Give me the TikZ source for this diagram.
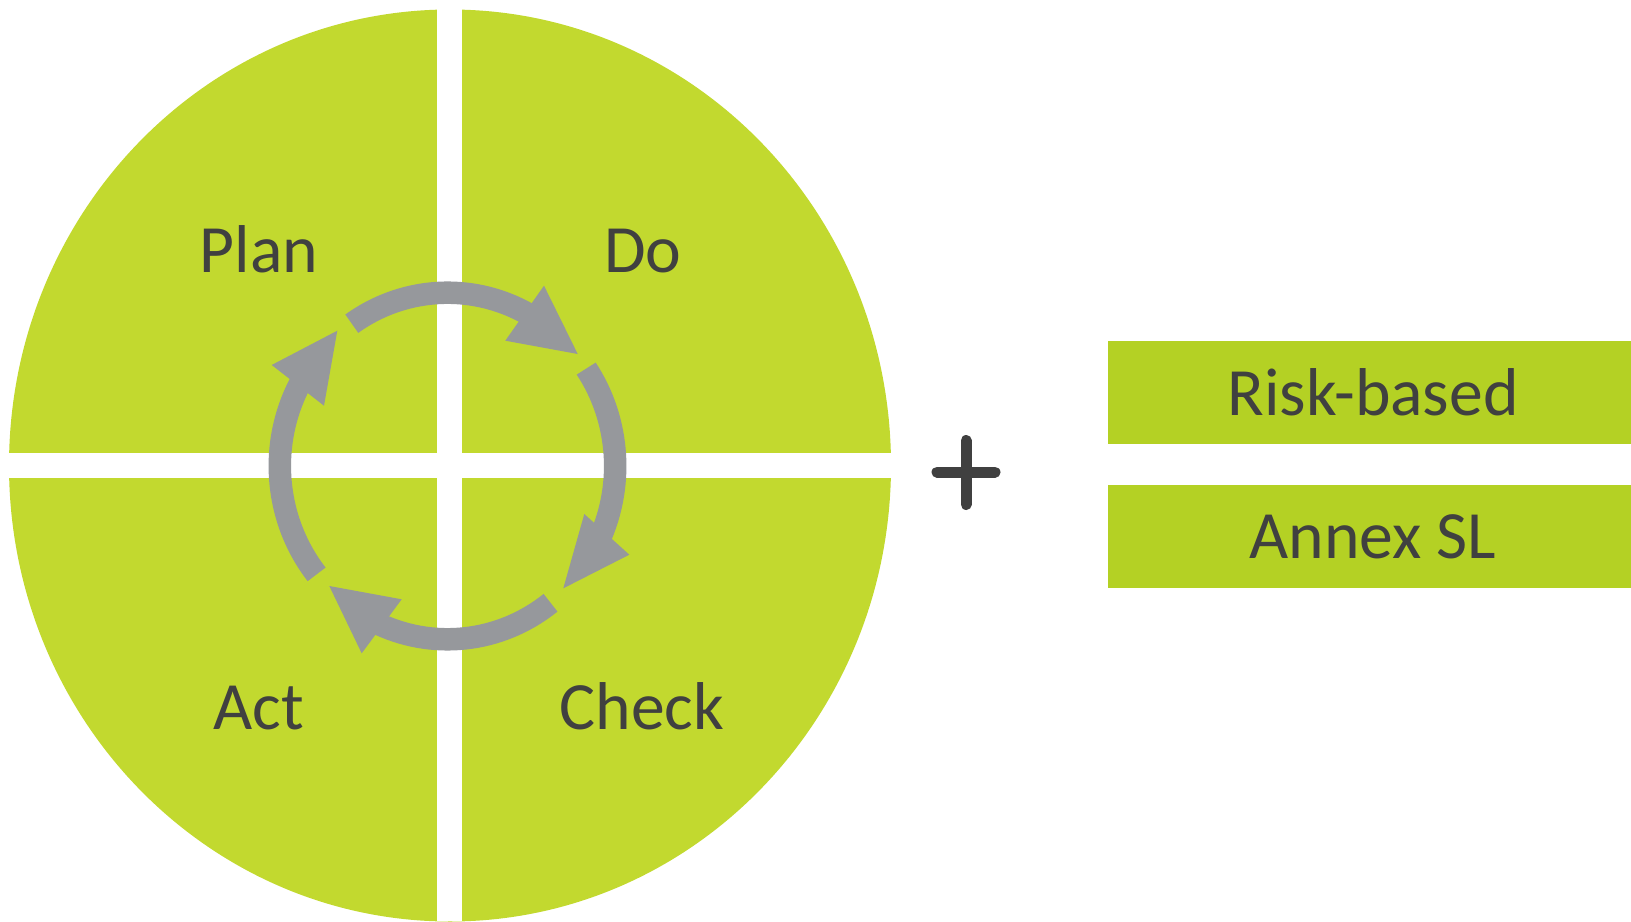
\documentclass[tikz,border=0pt]{standalone}
\usepackage{xcolor}
\usepackage{fontspec}
\setmainfont{Carlito}
\usepackage{tikz}
\usetikzlibrary{positioning}
\pgfdeclarelayer{fieldlayer}
\pgfdeclarelayer{nodelayer}
\pgfdeclarelayer{edgelayer}
\pgfsetlayers{fieldlayer,nodelayer,edgelayer,main}
\definecolor{pdcagreen}{RGB}{194,217,47}
\definecolor{boxgreen}{RGB}{180,209,36}
\definecolor{cyclegrey}{RGB}{150,152,156}
\definecolor{inkgrey}{RGB}{64,64,64}
\tikzset{
    none/.style = {inner sep=0pt},
    quadtext/.style = {inner sep=0pt, anchor=base, text=inkgrey, font=\fontsize{38.5}{46}\selectfont},
    boxtext/.style = {fill=boxgreen, inner sep=0pt, minimum width=10.6cm, minimum height=2.07cm, text=inkgrey, font=\fontsize{38.5}{46}\selectfont},
    shaft/.style = {draw=cyclegrey, line width=0.45cm},
    head/.style = {fill=cyclegrey},
    plusbar/.style = {draw=inkgrey, line width=0.22cm, line cap=round}
}
\begin{document}
\begin{tikzpicture}[x=0.02cm, y=0.02cm]
    \useasboundingbox (0,0) rectangle (1631,921);
    \begin{pgfonlayer}{fieldlayer}
        % disc cut into four quarters
        \fill [pdcagreen] (450,455.5) ellipse [x radius=441, y radius=456];
        \fill [white] (437.3,0) rectangle (462.3,921);
        \fill [white] (0,442.7) rectangle (900,468.3);
        \node [style=boxtext] (10) at (1373, 528.5) {Risk-based};
        \node [style=boxtext] (11) at (1373, 384.5) {Annex SL};
    \end{pgfonlayer}
    \begin{pgfonlayer}{nodelayer}
        \node [style=quadtext] (0) at (259, 648.3) {Plan};
        \node [style=quadtext] (1) at (643, 648.3) {Do};
        \node [style=quadtext] (2) at (258.5, 191.5) {Act};
        \node [style=quadtext] (3) at (642, 191.5) {Check};
        \node [style=none] (4) at ({447.5+167.7*cos(124.8)}, {455+173.3*sin(124.8)}) {};
        \node [style=none] (5) at ({447.5+167.7*cos(34.2)}, {455+173.3*sin(34.2)}) {};
        \node [style=none] (6) at ({447.5+167.7*cos(-52.1)}, {455+173.3*sin(-52.1)}) {};
        \node [style=none] (7) at ({447.5+167.7*cos(218.7)}, {455+173.3*sin(218.7)}) {};
        \node [style=none] (12) at (937, 449) {};
        \node [style=none] (13) at (995, 449) {};
        \node [style=none] (14) at (966, 480.5) {};
        \node [style=none] (15) at (966, 416.5) {};
    \end{pgfonlayer}
    \begin{pgfonlayer}{edgelayer}
        % cycle arrows, clockwise
        \draw [style=shaft] (4.center) arc [start angle=124.8, end angle=58, x radius=167.7, y radius=173.3];
        \fill [style=head] (544,635.3) -- (577.7,567) -- (505.3,580.3) -- cycle;
        \draw [style=shaft] (5.center) arc [start angle=34.2, end angle=-27, x radius=167.7, y radius=173.3];
        \fill [style=head] (629.3,366.3) -- (563.3,332.7) -- (584.3,407) -- cycle;
        \draw [style=shaft] (6.center) arc [start angle=-52.1, end angle=-116, x radius=167.7, y radius=173.3];
        \fill [style=head] (361.7,267.7) -- (329.3,335) -- (401.7,321.7) -- cycle;
        \draw [style=shaft] (7.center) arc [start angle=218.7, end angle=148, x radius=167.7, y radius=173.3];
        \fill [style=head] (271.7,556) -- (337.3,590.3) -- (324,515.3) -- cycle;
        \draw [style=plusbar] (12.center) to (13.center);
        \draw [style=plusbar] (14.center) to (15.center);
    \end{pgfonlayer}
\end{tikzpicture}
\end{document}
